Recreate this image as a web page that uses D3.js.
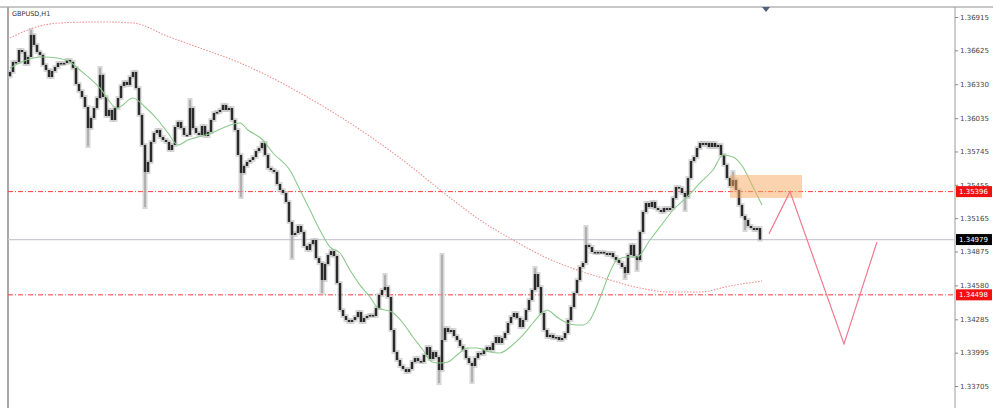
<!DOCTYPE html>
<html><head><meta charset="utf-8">
<script src="https://cdn.jsdelivr.net/npm/d3@7"></script>
<style>body{margin:0;background:#fff}svg{display:block}</style>
</head><body>
<svg id="c" width="1000" height="408"></svg>
<script>
const symbolTitle = "GBPUSD,H1";
const firstOpen = 1.36400;
const closes = [
1.36437,1.36524,1.36524,1.36628,1.36611,1.36506,1.36567,1.36759,1.36672,1.36611,
1.36585,1.36498,1.36454,1.36393,1.36445,1.36480,1.36515,1.36506,1.36515,1.36541,
1.36524,1.36471,1.36332,1.36271,1.36219,1.36132,1.35949,1.36036,1.36123,1.36210,
1.36411,1.36219,1.36054,1.36106,1.36019,1.36123,1.36210,1.36315,1.36350,1.36324,
1.36393,1.36437,1.36297,1.36063,1.35802,1.35567,1.35654,1.35828,1.35906,1.35932,
1.35871,1.35845,1.35828,1.35758,1.35802,1.35958,1.36002,1.35949,1.35889,1.35889,
1.36123,1.35949,1.35906,1.35889,1.35967,1.35880,1.35915,1.36019,1.36080,1.36089,
1.36106,1.36150,1.36106,1.36123,1.36019,1.35932,1.35715,1.35558,1.35619,1.35654,
1.35671,1.35697,1.35749,1.35775,1.35819,1.35715,1.35601,1.35584,1.35567,1.35462,
1.35410,1.35384,1.35306,1.35132,1.35019,1.35036,1.35097,1.35045,1.34923,1.34888,
1.34940,1.34975,1.34818,1.34775,1.34627,1.34766,1.34845,1.34879,1.34836,1.34601,
1.34366,1.34314,1.34279,1.34262,1.34279,1.34305,1.34349,1.34262,1.34296,1.34314,
1.34323,1.34314,1.34383,1.34497,1.34540,1.34566,1.34479,1.34192,1.34001,1.33931,
1.33879,1.33853,1.33827,1.33853,1.33914,1.33948,1.33922,1.33914,1.33975,1.34044,
1.33940,1.34001,1.33957,1.33844,1.34105,1.34209,1.34175,1.34192,1.34140,1.34105,
1.34053,1.34018,1.33948,1.33905,1.33879,1.33948,1.33992,1.33983,1.34018,1.34044,
1.34018,1.34079,1.34131,1.34079,1.34122,1.34166,1.34253,1.34305,1.34340,1.34296,
1.34218,1.34279,1.34366,1.34453,1.34540,1.34679,1.34566,1.34340,1.34192,1.34131,
1.34149,1.34122,1.34131,1.34105,1.34122,1.34166,1.34279,1.34392,1.34514,1.34627,
1.34740,1.34775,1.34932,1.34914,1.34871,1.34862,1.34871,1.34871,1.34862,1.34845,
1.34862,1.34827,1.34801,1.34775,1.34740,1.34688,1.34845,1.34932,1.34836,1.34801,
1.35045,1.35219,1.35297,1.35262,1.35306,1.35253,1.35236,1.35219,1.35253,1.35236,
1.35253,1.35340,1.35436,1.35427,1.35384,1.35349,1.35514,1.35662,1.35697,1.35775,
1.35819,1.35802,1.35819,1.35784,1.35819,1.35784,1.35802,1.35715,1.35628,1.35514,
1.35445,1.35497,1.35410,1.35280,1.35184,1.35149,1.35097,1.35079,1.35062,1.35079,
1.34979
];
// explicit wick extremes: [barIndex, price]
const wickHighs = [[7,1.36802],[30,1.36471],[60,1.36193],[125,1.34671],[144,1.34845],[175,1.34731],[192,1.35088],[241,1.35567]];
const wickLows = [[26,1.35793],[45,1.35262],[77,1.35349],[94,1.34818],[104,1.34514],[143,1.33731],[154,1.33740],[205,1.34644],[209,1.34714],[225,1.35236],[245,1.35062]];
const maGreenIdx = [0,7.67,11,15.67,20,23.3,30,35.67,41,45,49.3,52.67,56,59.3,62.67,67.3,71.67,76.67,79.3,84.3,87.67,93.3,96.67,100,103.3,106.67,110,113.3,116.67,120,122.67,127.3,131,134.3,137.67,140.67,143.3,146,149,152.3,155.67,160,163.3,166.67,171,174.3,177.67,179,182.3,185.67,189,191,193.3,196.67,200,202.3,205.67,209,213.3,217.67,221,225.67,230,234.3,237.67,241,244.3,247.67,250.67];
const maGreenVal = [1.36471,1.36558,1.36567,1.36558,1.36524,1.36454,1.36297,1.36123,1.36210,1.36132,1.36019,1.35906,1.35802,1.35845,1.35871,1.35906,1.35958,1.35993,1.35932,1.35845,1.35732,1.35584,1.35410,1.35236,1.35062,1.34914,1.34862,1.34714,1.34583,1.34479,1.34383,1.34349,1.34253,1.34131,1.34018,1.33914,1.33905,1.33914,1.33975,1.34035,1.34035,1.34001,1.33992,1.34044,1.34149,1.34253,1.34349,1.34366,1.34305,1.34253,1.34236,1.34236,1.34279,1.34470,1.34697,1.34801,1.34827,1.34827,1.34975,1.35123,1.35236,1.35349,1.35471,1.35584,1.35714,1.35697,1.35610,1.35436,1.35280];
const maRedIdx = [0,7.67,16.67,30,41,52.3,63.3,74.3,83.3,96.67,113.3,130,147.67,156.67,167.67,179,190,200,210,220,230,240,250.67];
const maRedVal = [1.36732,1.36819,1.36863,1.36872,1.36863,1.36750,1.36645,1.36541,1.36437,1.36254,1.35993,1.35688,1.35323,1.35149,1.34975,1.34818,1.34705,1.34627,1.34557,1.34523,1.34523,1.34575,1.34618];
const tickValues = [1.36915,1.36625,1.36330,1.36035,1.35745,1.35455,1.35165,1.34875,1.34580,1.34285,1.33995,1.33705];
const levelPrices = [1.35396,1.34498];
const currentPrice = 1.34979;
const zoneIdx = [240,264];
const zonePrice = [1.35541,1.35341];
const projIdx = [253,260,278,289];
const projVal = [1.35030,1.35396,1.34071,1.34958];

const svg = d3.select("#c");
const L = 8, T = 7, R = 955, B = 408;
const x = d3.scaleLinear().domain([0, closes.length - 1]).range([10, 760]);
const y = d3.scaleLinear().domain([tickValues[0], tickValues[tickValues.length-1]]).range([17, 386]);

svg.append("defs").append("clipPath").attr("id","clip")
  .append("rect").attr("x",L).attr("y",T).attr("width",R-L).attr("height",B-T);

// frame
svg.append("line").attr("x1",0).attr("x2",993).attr("y1",T).attr("y2",T).attr("stroke","#b4b4b4").attr("stroke-width",1.5);
svg.append("line").attr("x1",L).attr("x2",L).attr("y1",T).attr("y2",B).attr("stroke","#a8a8a8").attr("stroke-width",2);
svg.append("line").attr("x1",R).attr("x2",R).attr("y1",T).attr("y2",B).attr("stroke","#9a9a9a").attr("stroke-width",1);

const g = svg.append("g").attr("clip-path","url(#clip)");

// current price line
g.append("line").attr("x1",L).attr("x2",R).attr("y1",y(currentPrice)).attr("y2",y(currentPrice))
  .attr("stroke","#c9ccd6").attr("stroke-width",1.2);
// level lines
levelPrices.forEach(p => {
  g.append("line").attr("x1",L).attr("x2",R).attr("y1",y(p)).attr("y2",y(p))
   .attr("stroke","#ff3a3a").attr("stroke-width",1).attr("stroke-dasharray","5,2,1,2");
});

// red MA (dotted)
const lineGen = d3.line().x(d=>x(d[0])).y(d=>y(d[1])).curve(d3.curveMonotoneX);
g.append("path").datum(maRedIdx.map((v,i)=>[v,maRedVal[i]])).attr("d",lineGen)
  .attr("fill","none").attr("stroke","#f39090").attr("stroke-width",1.1).attr("stroke-dasharray","1.5,1.5");

// candles
const candles = closes.map((c,i) => {
  const o = i === 0 ? firstOpen : closes[i-1];
  return {i,o,c,h:Math.max(o,c),l:Math.min(o,c)};
});
wickHighs.forEach(([i,v]) => { candles[i].h = Math.max(candles[i].h, v); });
wickLows.forEach(([i,v]) => { candles[i].l = Math.min(candles[i].l, v); });

const cg = g.append("g");
cg.selectAll("rect.halo").data(candles).join("rect").attr("class","halo")
  .attr("x",d=>x(d.i)-2.5).attr("width",5)
  .attr("y",d=>y(d.h)-2).attr("height",d=>Math.max(4,y(d.l)-y(d.h)+4))
  .attr("fill","#bdbdbd").attr("opacity",0.6);
cg.selectAll("line.wick").data(candles).join("line").attr("class","wick")
  .attr("x1",d=>x(d.i)).attr("x2",d=>x(d.i)).attr("y1",d=>y(d.h)).attr("y2",d=>y(d.l))
  .attr("stroke","#8a8a8a").attr("stroke-width",1);
cg.selectAll("rect.body").data(candles).join("rect").attr("class","body")
  .attr("x",d=>x(d.i)-1.2).attr("width",2.4)
  .attr("y",d=>y(Math.max(d.o,d.c))).attr("height",d=>Math.max(1.5,Math.abs(y(d.o)-y(d.c))))
  .attr("fill","#2a2a2a");

// green MA
g.append("path").datum(maGreenIdx.map((v,i)=>[v,maGreenVal[i]])).attr("d",lineGen)
  .attr("fill","none").attr("stroke","#8cc98c").attr("stroke-width",1.1);

// zone rectangle
g.append("rect").attr("x",x(zoneIdx[0])).attr("width",x(zoneIdx[1])-x(zoneIdx[0]))
  .attr("y",y(zonePrice[0])).attr("height",y(zonePrice[1])-y(zonePrice[0]))
  .attr("fill","#f7a960").attr("opacity",0.5);

// projection path
g.append("path").datum(projIdx.map((v,i)=>[v,projVal[i]]))
  .attr("d",d3.line().x(d=>x(d[0])).y(d=>y(d[1])))
  .attr("fill","none").attr("stroke","#f07a90").attr("stroke-width",1.2);

// chart shift marker
svg.append("path").attr("d",`M${x(252)-4},${T} L${x(252)+4},${T} L${x(252)},${T+5} Z`).attr("fill","#50607a");

// title
svg.append("text").attr("x",12).attr("y",16).text(symbolTitle)
  .attr("font-family","DejaVu Sans, sans-serif").attr("font-size",6.5).attr("fill","#333");

// axis
const axis = d3.axisRight(y).tickValues(tickValues).tickFormat(d3.format(".5f")).tickSize(3).tickPadding(2);
const ag = svg.append("g").attr("transform",`translate(${R},0)`).call(axis);
ag.select(".domain").remove();
ag.selectAll(".tick line").attr("stroke","#888");
ag.selectAll(".tick text").attr("font-family","DejaVu Sans, sans-serif").attr("font-size",7).attr("fill","#444");

// price labels
function priceLabel(p, fill) {
  const yy = y(p);
  svg.append("rect").attr("x",R+1).attr("y",yy-5.5).attr("width",36).attr("height",11).attr("fill",fill);
  svg.append("text").attr("x",R+4).attr("y",yy).attr("dy","0.35em").text(d3.format(".5f")(p))
    .attr("font-family","DejaVu Sans, sans-serif").attr("font-size",7).attr("fill","#fff");
}
levelPrices.forEach(p => priceLabel(p, "#f01010"));
priceLabel(currentPrice, "#000");
</script>
</body></html>
